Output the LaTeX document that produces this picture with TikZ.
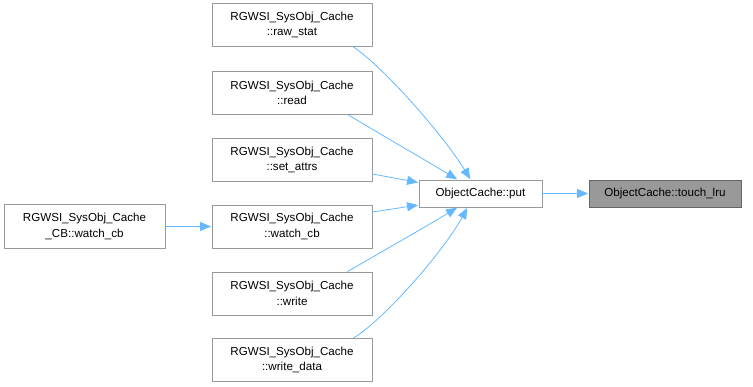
\documentclass[tikz,border=0pt]{standalone}
\usepackage{fontspec}
\setmainfont{Liberation Sans}
\usetikzlibrary{arrows.meta}
\definecolor{edgeblue}{HTML}{63B8FF}
\definecolor{boxline}{HTML}{999999}
\definecolor{hlfill}{HTML}{999999}
\definecolor{hlline}{HTML}{666666}
\tikzset{
  fnbox/.style={draw=boxline, line width=0.9pt, fill=white, align=center,
    inner sep=0pt, font=\fontsize{11.6}{15.5}\selectfont},
  midbox/.style={fnbox, minimum width=160pt, minimum height=43pt},
  hlbox/.style={fnbox, fill=hlfill, draw=hlline},
  calls/.style={draw=edgeblue, line width=0.8pt,
    -{Triangle[length=11pt,width=9pt]}, shorten >=0.5pt},
}
\begin{document}
\begin{tikzpicture}[x=1pt, y=-1pt]
\useasboundingbox (0,0) rectangle (753,387);
% callers of ObjectCache::put
\node[midbox] (rawstat) at (292,25) {RGWSI\_SysObj\_Cache\\::raw\_stat};
\node[midbox] (read) at (292,93) {RGWSI\_SysObj\_Cache\\::read};
\node[midbox] (setattrs) at (292,160) {RGWSI\_SysObj\_Cache\\::set\_attrs};
\node[midbox] (watchcb) at (292,226.5) {RGWSI\_SysObj\_Cache\\::watch\_cb};
\node[midbox] (write) at (292,293.5) {RGWSI\_SysObj\_Cache\\::write};
\node[midbox] (writedata) at (292,360) {RGWSI\_SysObj\_Cache\\::write\_data};
\node[fnbox, minimum width=161pt, minimum height=44pt] (cbwatch) at (84.5,226.5)
  {RGWSI\_SysObj\_Cache\\\_CB::watch\_cb};
\node[fnbox, minimum width=123pt, minimum height=27pt] (put) at (480.5,193.5)
  {ObjectCache::put};
\node[hlbox, minimum width=152pt, minimum height=27pt] (touch) at (665,193.5)
  {ObjectCache::touch\_lru};

% call edges (yshift is upward in canvas terms)
\draw[calls] (cbwatch.east) -- (watchcb.west);
\draw[calls] ([xshift=-19pt]rawstat.south east)
  .. controls (382,66) and (442,133) .. ([xshift=52pt]put.north west);
\draw[calls] ([xshift=-24pt]read.south east)
  .. controls (385,137) and (425,160) .. ([xshift=39pt]put.north west);
\draw[calls] ([yshift=-14pt]setattrs.east) -- ([yshift=11pt]put.west);
\draw[calls] ([yshift=14.5pt]watchcb.east) -- ([yshift=-11.5pt]put.west);
\draw[calls] ([xshift=-25pt]write.north east)
  .. controls (385,250) and (425,227) .. ([xshift=39pt]put.south west);
\draw[calls] ([xshift=-19pt]writedata.north east)
  .. controls (382,321) and (442,254) .. ([xshift=49pt]put.south west);
\draw[calls] (put.east) -- (touch.west);
\end{tikzpicture}
\end{document}
